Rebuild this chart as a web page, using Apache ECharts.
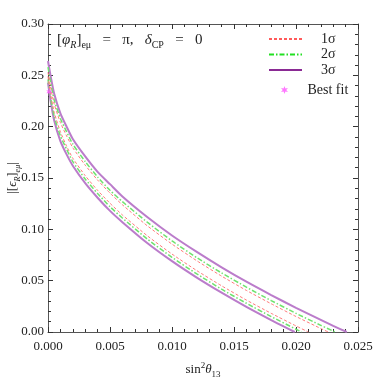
<!DOCTYPE html>
<html><head><meta charset="utf-8">
<script src="https://cdn.jsdelivr.net/npm/echarts@6/dist/echarts.min.js"></script>
<style>html,body{margin:0;padding:0;background:#fff}#c{width:382px;height:378px}</style>
</head><body><div id="c"></div>
<script>
// x: sin^2(theta13), y: |[eps_R]_emu|
const xTicks = [0.000, 0.005, 0.010, 0.015, 0.020, 0.025];
const yTicks = [0.00, 0.05, 0.10, 0.15, 0.20, 0.25, 0.30];

const s3Out = [0,0.0002,0.0005,0.001,0.0015,0.002,0.003,0.004,0.005,0.006,0.008,0.010,0.012,0.014,0.016,0.018,0.020,0.022,0.023,0.0241];
const e3Out = [0.264,0.250,0.232,0.213,0.200,0.188,0.171,0.156,0.144,0.132,0.112,0.094,0.078,0.063,0.049,0.036,0.0235,0.0118,0.006,0];
const s2Out = [0,0.0002,0.0005,0.001,0.0015,0.002,0.003,0.004,0.005,0.006,0.008,0.010,0.012,0.014,0.016,0.018,0.020,0.022,0.02315];
const e2Out = [0.258,0.244,0.226,0.208,0.195,0.183,0.166,0.151,0.138,0.127,0.107,0.0887,0.0724,0.0575,0.0437,0.0306,0.0182,0.0065,0];
const s1Out = [0,0.0002,0.0005,0.001,0.0015,0.002,0.003,0.004,0.005,0.006,0.008,0.010,0.012,0.014,0.016,0.018,0.020,0.022,0.0226];
const e1Out = [0.253,0.239,0.222,0.204,0.191,0.1795,0.1625,0.148,0.1353,0.1239,0.1035,0.0856,0.0694,0.0544,0.0405,0.0275,0.0151,0.0034,0];
const s1In = [0,0.0002,0.0005,0.001,0.0015,0.002,0.003,0.004,0.005,0.006,0.008,0.010,0.012,0.014,0.016,0.018,0.020,0.0210];
const e1In = [0.249,0.232,0.214,0.195,0.181,0.1693,0.1523,0.138,0.1254,0.114,0.0938,0.0759,0.0598,0.045,0.0311,0.0182,0.0059,0];
const s2In = [0,0.0002,0.0005,0.001,0.0015,0.002,0.003,0.004,0.005,0.006,0.008,0.010,0.012,0.014,0.016,0.018,0.020,0.02046];
const e2In = [0.246,0.229,0.210,0.191,0.178,0.166,0.149,0.135,0.122,0.111,0.0906,0.0727,0.0566,0.0417,0.028,0.015,0.0027,0];
const s3In = [0,0.0002,0.0005,0.001,0.0015,0.002,0.003,0.004,0.005,0.006,0.008,0.010,0.012,0.014,0.016,0.018,0.019,0.0199];
const e3In = [0.243,0.226,0.206,0.186,0.173,0.162,0.145,0.1308,0.118,0.107,0.0867,0.069,0.053,0.0383,0.0245,0.0116,0.0054,0];

const bestFitX = [0.0001];
const bestFitY = [0.234];

const zip = (a, b) => a.map((v, i) => [v, b[i]]);
const FONT = 'Liberation Serif';
const red = '#ff7a7a', green = '#6ee36e', purple = '#bb7ccb';
const starPath = 'path://M0,-10 L2.2,-3.8 L8.7,-5 L4.4,0 L8.7,5 L2.2,3.8 L0,10 L-2.2,3.8 L-8.7,5 L-4.4,0 L-8.7,-5 L-2.2,-3.8 Z';

function lineSeries(name, xs, ys, color, type, width) {
  return {
    name, type: 'line', data: zip(xs, ys), symbol: 'none', smooth: 0.2,
    lineStyle: { color, type, width }, itemStyle: { color }, z: width > 1.5 ? 3 : 4,
    silent: true, animation: false
  };
}

const axisCommon = {
  axisLine: { show: true, onZero: false, lineStyle: { color: '#555', width: 1 } },
  axisTick: { show: true, inside: true, length: 5, lineStyle: { color: '#333' } },
  minorTick: { show: true, splitNumber: 5, length: 3, lineStyle: { color: '#333' } },
  splitLine: { show: false }
};

const chart = echarts.init(document.getElementById('c'), null, { renderer: 'canvas' });
chart.setOption({
  animation: false,
  backgroundColor: '#fff',
  grid: { left: 48, right: 24, top: 24, bottom: 46, containLabel: false, outerBoundsMode: 'none' },
  xAxis: [
    Object.assign({}, axisCommon, {
      type: 'value', min: xTicks[0], max: xTicks[xTicks.length - 1], interval: 0.005, position: 'bottom',
      axisLabel: { fontFamily: FONT, fontSize: 13, color: '#222', margin: 8, formatter: v => v.toFixed(3) },
      name: '{n|sin}{sup|2}{it|θ}{sub|13}', nameLocation: 'middle', nameGap: 29,
      nameTextStyle: { fontFamily: FONT, fontSize: 13, color: '#222', lineHeight: 18,
        rich: { n: { fontFamily: FONT, fontSize: 13, lineHeight: 18 },
                sup: { fontFamily: FONT, fontSize: 9, verticalAlign: 'top', lineHeight: 18 },
                it: { fontFamily: FONT, fontSize: 13, fontStyle: 'italic', lineHeight: 18 },
                sub: { fontFamily: FONT, fontSize: 9, verticalAlign: 'bottom', lineHeight: 18 } } }
    }),
    Object.assign({}, axisCommon, {
      type: 'value', min: xTicks[0], max: xTicks[xTicks.length - 1], interval: 0.005, position: 'top',
      axisLabel: { show: false }
    })
  ],
  yAxis: [
    Object.assign({}, axisCommon, {
      type: 'value', min: yTicks[0], max: yTicks[yTicks.length - 1], interval: 0.05, position: 'left',
      axisLabel: { fontFamily: FONT, fontSize: 13, color: '#222', margin: 4, formatter: v => v.toFixed(2) },
      name: '{n||[}{it|ϵ}{sub|R}{n|]}{sub|eμ}{n||}', nameLocation: 'middle', nameGap: 26, nameRotate: 90,
      nameMoveOverlap: false,
      nameTextStyle: { fontFamily: FONT, fontSize: 13, color: '#222',
        rich: { n: { fontFamily: FONT, fontSize: 13, lineHeight: 18 },
                it: { fontFamily: FONT, fontSize: 13, fontStyle: 'italic', lineHeight: 18 },
                sub: { fontFamily: FONT, fontSize: 8, fontStyle: 'italic', verticalAlign: 'bottom', lineHeight: 18 } } }
    }),
    Object.assign({}, axisCommon, {
      type: 'value', min: yTicks[0], max: yTicks[yTicks.length - 1], interval: 0.05, position: 'right',
      axisLabel: { show: false }
    })
  ],
  legend: [
    {
      orient: 'vertical', left: 263, top: 27, itemWidth: 33, itemHeight: 14, itemGap: 1.5,
      itemStyle: { opacity: 0, borderWidth: 0 },
      data: [
        { name: '1σ', lineStyle: { color: '#ff5a5a' } },
        { name: '2σ', lineStyle: { color: '#22e022' } },
        { name: '3σ', lineStyle: { color: '#8a2a94' } }
      ],
      textStyle: { fontFamily: FONT, fontSize: 14, color: '#222', padding: [0, 0, 0, 14] },
      selectedMode: false
    },
    {
      orient: 'vertical', left: 276, top: 78, itemWidth: 8, itemHeight: 8,
      data: [{ name: 'Best fit', icon: starPath }],
      textStyle: { fontFamily: FONT, fontSize: 14, color: '#222', padding: [0, 0, 0, 14] },
      selectedMode: false
    }
  ],
  graphic: [{
    type: 'text', left: 57, top: 33, silent: true,
    style: {
      text: '{n|[}{it|φ}{sub|R}{n|]}{sub2|eμ}{n|   =   π,   }{it|δ}{sub2|CP}{n|   =   0}',
      rich: {
        n: { fontFamily: FONT, fontSize: 15, fill: '#222', lineHeight: 19 },
        it: { fontFamily: FONT, fontSize: 15, fontStyle: 'italic', fill: '#222', lineHeight: 19 },
        sub: { fontFamily: FONT, fontSize: 10, fontStyle: 'italic', fill: '#222', verticalAlign: 'bottom', lineHeight: 19 },
        sub2: { fontFamily: FONT, fontSize: 10, fill: '#222', verticalAlign: 'bottom', lineHeight: 19 }
      }
    }
  }],
  series: [
    lineSeries('3σ', s3Out, e3Out, purple, 'solid', 2),
    lineSeries('3σ', s3In, e3In, purple, 'solid', 2),
    lineSeries('2σ', s2Out, e2Out, green, [5, 2, 1.5, 2], 1.5),
    lineSeries('2σ', s2In, e2In, green, [5, 2, 1.5, 2], 1.5),
    lineSeries('1σ', s1Out, e1Out, red, [3, 2], 1),
    lineSeries('1σ', s1In, e1In, red, [3, 2], 1),
    {
      name: 'Best fit', type: 'scatter', data: zip(bestFitX, bestFitY),
      symbol: starPath, symbolSize: 6, itemStyle: { color: '#ff55ff' }, z: 6, silent: true
    }
  ]
});
</script></body></html>
